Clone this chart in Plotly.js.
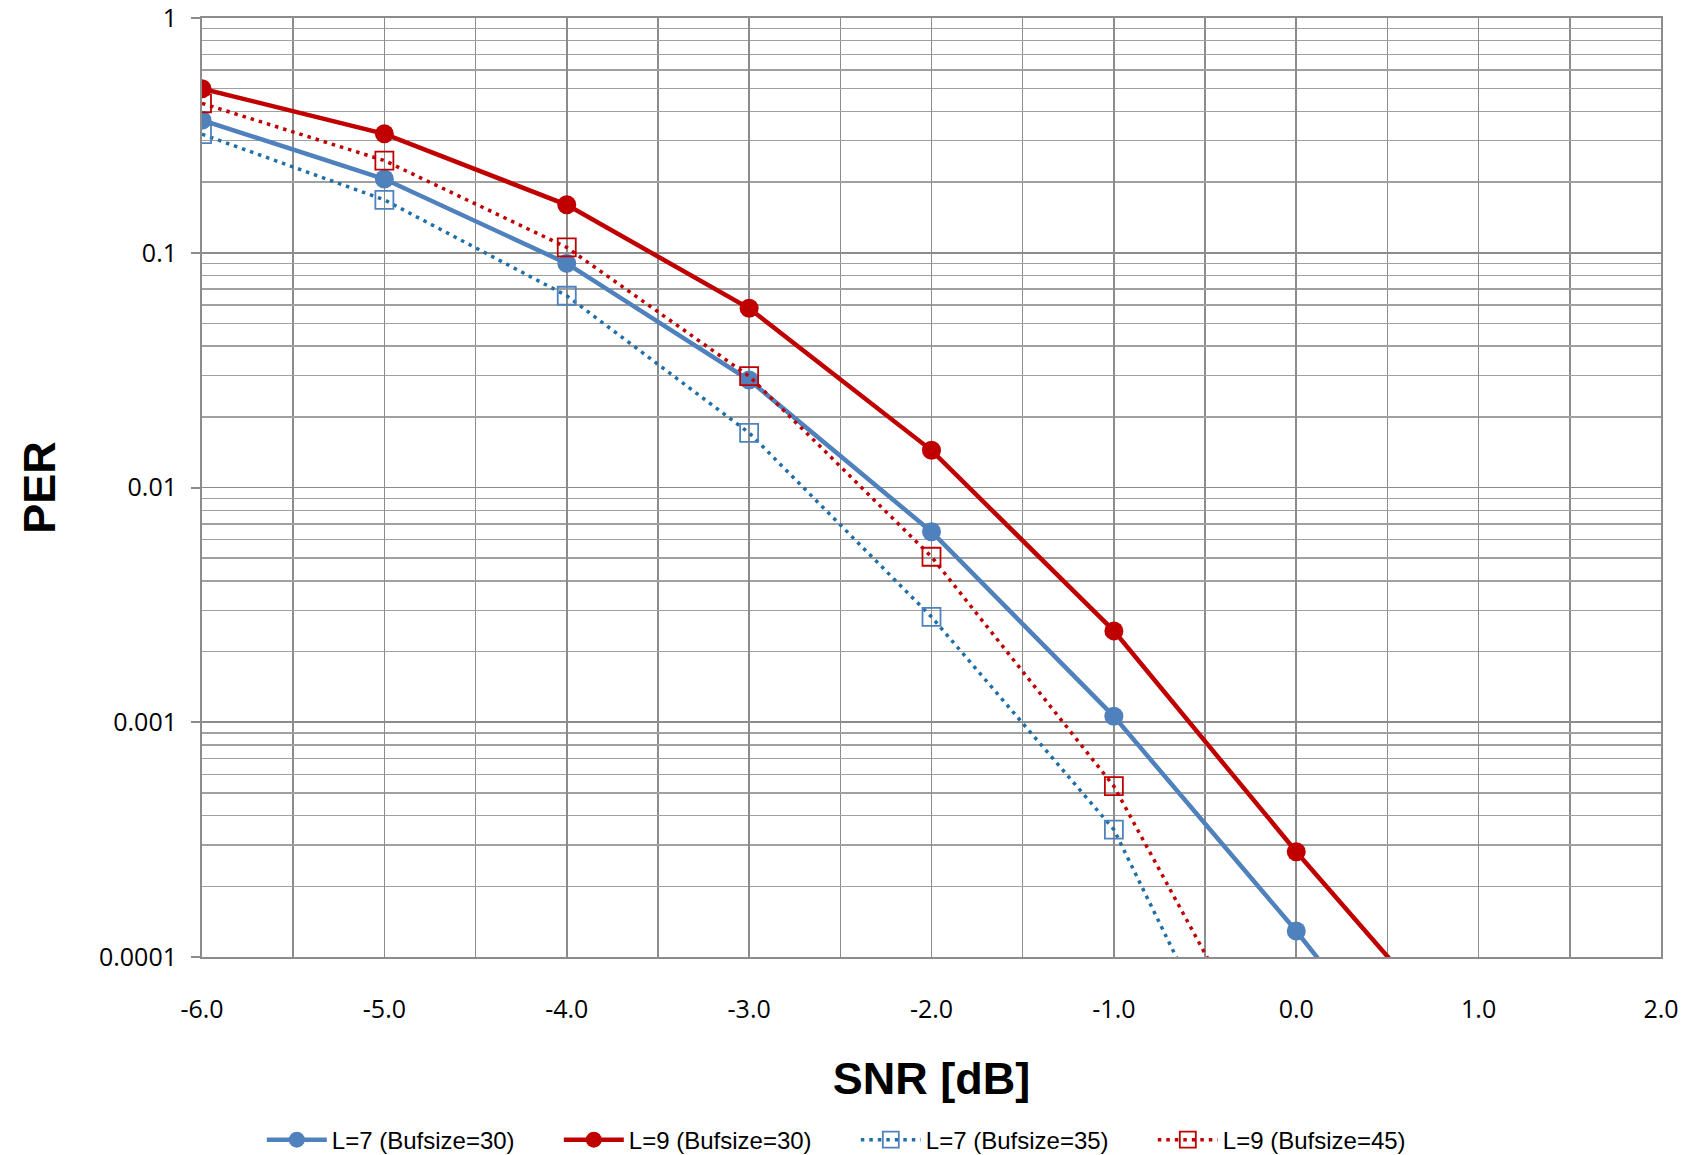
<!DOCTYPE html>
<html>
<head>
<meta charset="utf-8">
<script src="https://cdn.plot.ly/plotly-3.0.1.min.js"></script>
<style>
html,body{margin:0;padding:0;background:#fff;}
#chart{width:1691px;height:1155px;}
</style>
</head>
<body>
<div id="chart"></div>
<script>
// Data
const snr = [-6, -5, -4, -3, -2, -1, 0, 1];
const snrShort = [-6, -5, -4, -3, -2, -1, 0];
const perL7B30 = [0.367, 0.206, 0.0901, 0.0287, 0.00648, 0.00106, 0.000129, 0.0000135];
const perL9B30 = [0.50, 0.321, 0.160, 0.058, 0.0144, 0.00245, 0.000281, 0.000036];
const perL7B35 = [0.32, 0.168, 0.0656, 0.0171, 0.00281, 0.000349, 0.000009];
const perL9B45 = [0.433, 0.247, 0.1054, 0.0298, 0.00507, 0.000534, 0.00002];
const seriesNames = ['L=7 (Bufsize=30)', 'L=9 (Bufsize=30)', 'L=7 (Bufsize=35)', 'L=9 (Bufsize=45)'];

const xTickVals = [-6, -5, -4, -3, -2, -1, 0, 1, 2];
const xTickText = ['-6.0', '-5.0', '-4.0', '-3.0', '-2.0', '-1.0', '0.0', '1.0', '2.0'];
const xMinorVals = [-5.5, -4.5, -3.5, -2.5, -1.5, -0.5, 0.5, 1.5];
const yTickVals = [1, 0.1, 0.01, 0.001, 0.0001];
const yTickText = ['1', '0.1', '0.01', '0.001', '0.0001'];

// minor log gridlines (2..9 per decade)
const yMinorVals = [];
[0.0001, 0.001, 0.01, 0.1].forEach(d => { for (let k = 2; k <= 9; k++) yMinorVals.push(d * k); });

const blue = '#4F81BD', red = '#C00000', dotBlue = '#1F6FA8';

const traces = [
  {x: snr, y: perL7B30, name: seriesNames[0], mode: 'lines+markers',
   line: {color: blue, width: 4.5}, marker: {symbol: 'circle', size: 19, color: blue}},
  {x: snr, y: perL9B30, name: seriesNames[1], mode: 'lines+markers',
   line: {color: red, width: 4.5}, marker: {symbol: 'circle', size: 19, color: red}},
  {x: snrShort, y: perL7B35, name: seriesNames[2], mode: 'lines+markers',
   line: {color: dotBlue, width: 3.5, dash: '3.5px,5px'},
   marker: {symbol: 'square-open', size: 18, color: blue, line: {width: 1.8, color: blue}}},
  {x: snrShort, y: perL9B45, name: seriesNames[3], mode: 'lines+markers',
   line: {color: red, width: 3.5, dash: '3.5px,5px'},
   marker: {symbol: 'square-open', size: 18, color: red, line: {width: 1.8, color: red}}}
];

const layout = {
  width: 1691, height: 1155,
  paper_bgcolor: '#fff', plot_bgcolor: '#fff',
  margin: {l: 202, r: 30, t: 18, b: 198, autoexpand: false},
  showlegend: true,
  legend: {orientation: 'h', x: 0.041, xanchor: 'left', y: -0.195, yanchor: 'middle',
           font: {family: 'Liberation Sans, Arial, sans-serif', size: 24, color: '#000'},
           itemwidth: 60, entrywidth: 222, entrywidthmode: 'pixels', tracegroupgap: 0},
  xaxis: {
    range: [-6, 2], type: 'linear',
    tickmode: 'array', tickvals: xTickVals, ticktext: xTickText,
    ticks: '', ticklabelstandoff: 29, ticklabeloverflow: 'allow',
    tickfont: {family: 'Open Sans, sans-serif', size: 25, color: '#000'},
    showgrid: true, gridcolor: '#8c8c8c', gridwidth: 1.6,
    minor: {tickmode: 'array', tickvals: xMinorVals, showgrid: true, gridcolor: '#8c8c8c', gridwidth: 1.6, ticks: ''},
    showline: true, linecolor: '#8c8c8c', linewidth: 2, mirror: true,
    zeroline: false, automargin: false,
    title: {text: 'SNR [dB]', standoff: 38,
            font: {family: 'Liberation Sans, Arial, sans-serif', size: 45, color: '#000', weight: 'bold'}}
  },
  yaxis: {
    type: 'log', range: [-4, 0.00001],
    tickmode: 'array', tickvals: yTickVals, ticktext: yTickText,
    ticks: 'outside', ticklen: 9, tickcolor: '#8c8c8c', tickwidth: 2, ticklabelstandoff: 9,
    ticklabeloverflow: 'allow',
    tickfont: {family: 'Open Sans, sans-serif', size: 25, color: '#000'},
    showgrid: true, gridcolor: '#8c8c8c', gridwidth: 1.6,
    minor: {tickmode: 'array', tickvals: yMinorVals, showgrid: true, gridcolor: '#a0a0a0', gridwidth: 1.4, ticks: ''},
    showline: true, linecolor: '#8c8c8c', linewidth: 2, mirror: true,
    zeroline: false, automargin: false,
    title: {text: 'PER', standoff: 29,
            font: {family: 'Liberation Sans, Arial, sans-serif', size: 45, color: '#000', weight: 'bold'}}
  }
};

Plotly.newPlot('chart', traces, layout, {staticPlot: true, displayModeBar: false});
</script>
</body>
</html>
